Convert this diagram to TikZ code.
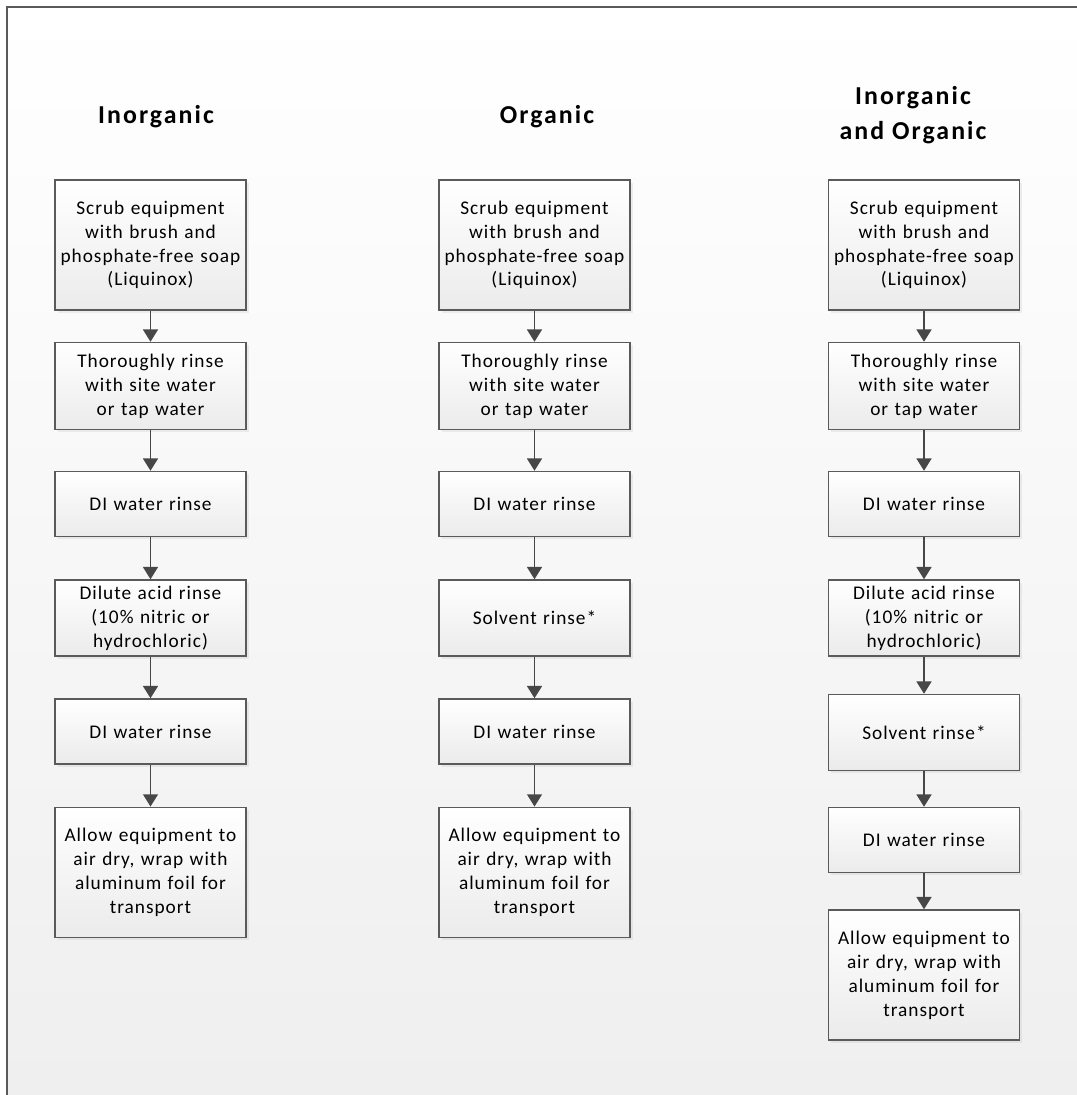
\documentclass[tikz,border=0pt]{standalone}
\usepackage{fontspec}
\setmainfont{Carlito}[LetterSpace=5]
\newfontfamily\headfont{Carlito}[LetterSpace=8]
\usetikzlibrary{arrows.meta,shadows}

\definecolor{edgegray}{HTML}{5A5A5A}
\definecolor{arrowgray}{HTML}{474747}
\definecolor{pagegray}{HTML}{EFEFEF}
\definecolor{boxgray}{HTML}{EBEBEB}

\begin{document}
\begin{tikzpicture}[
  x=0.02cm, y=-0.02cm,
  >={Triangle[width=8.5pt,length=7pt]},
  stepbox/.style={draw=edgegray, line width=0.85pt, top color=white, bottom color=boxgray,
    minimum width=3.82cm, text width=3.78cm, align=center, inner sep=0pt,
    font=\fontsize{11}{13.6}\selectfont,
    drop shadow={opacity=0.12, shadow xshift=1.5pt, shadow yshift=-1.5pt}},
  bigbox/.style={stepbox, minimum height=2.6cm},
  midbox/.style={stepbox, minimum height=1.74cm},
  lowbox/.style={stepbox, minimum height=1.52cm},
  rinsebox/.style={stepbox, minimum height=1.3cm},
  heading/.style={align=center, font=\headfont\fontsize{14.7}{19.8}\selectfont\bfseries},
  flow/.style={->, draw=arrowgray, line width=0.9pt},
]

\useasboundingbox (0,0) rectangle (1077,1095);
\shade[top color=white, bottom color=pagegray] (7,7) rectangle (1077,1095);
\draw[edgegray, line width=1.1pt] (7,1095) -- (7,7) -- (1077,7);

% headings
\node[heading] (tin) at (156,117) {Inorganic};
\node[heading] (tor) at (547,117) {Organic};
\node[heading] (tio) at (913,115.5) {Inorganic\\and Organic};

% inorganic
\node[bigbox] (in1) at (150.5,245) {Scrub equipment\\with brush and\\phosphate-free soap\\(Liquinox)};
\node[midbox] (in2) at (150.5,386) {Thoroughly rinse\\with site water\\or tap water};
\node[rinsebox] (in3) at (150.5,504) {DI water rinse};
\node[lowbox] (in4) at (150.5,618) {Dilute acid rinse\\(10\% nitric or\\hydrochloric)};
\node[rinsebox] (in5) at (150.5,731.5) {DI water rinse};
\node[bigbox] (in6) at (150.5,872.3) {Allow equipment to\\air dry, wrap with\\aluminum foil for\\transport};

% organic
\node[bigbox] (or1) at (534.5,245) {Scrub equipment\\with brush and\\phosphate-free soap\\(Liquinox)};
\node[midbox] (or2) at (534.5,386) {Thoroughly rinse\\with site water\\or tap water};
\node[rinsebox] (or3) at (534.5,504) {DI water rinse};
\node[lowbox] (or4) at (534.5,618) {Solvent rinse*};
\node[rinsebox] (or5) at (534.5,731.5) {DI water rinse};
\node[bigbox] (or6) at (534.5,872.3) {Allow equipment to\\air dry, wrap with\\aluminum foil for\\transport};

% inorganic and organic
\node[bigbox] (io1) at (924,245) {Scrub equipment\\with brush and\\phosphate-free soap\\(Liquinox)};
\node[midbox] (io2) at (924,386) {Thoroughly rinse\\with site water\\or tap water};
\node[rinsebox] (io3) at (924,504) {DI water rinse};
\node[lowbox] (io4) at (924,618) {Dilute acid rinse\\(10\% nitric or\\hydrochloric)};
\node[lowbox] (io5) at (924,732.5) {Solvent rinse*};
\node[rinsebox] (io6) at (924,840) {DI water rinse};
\node[bigbox] (io7) at (924,975) {Allow equipment to\\air dry, wrap with\\aluminum foil for\\transport};

\foreach \a/\b in {in1/in2,in2/in3,in3/in4,in4/in5,in5/in6,
                   or1/or2,or2/or3,or3/or4,or4/or5,or5/or6,
                   io1/io2,io2/io3,io3/io4,io4/io5,io5/io6,io6/io7} {
  \draw[flow] (\a.south) -- (\b.north);
}

\end{tikzpicture}
\end{document}
